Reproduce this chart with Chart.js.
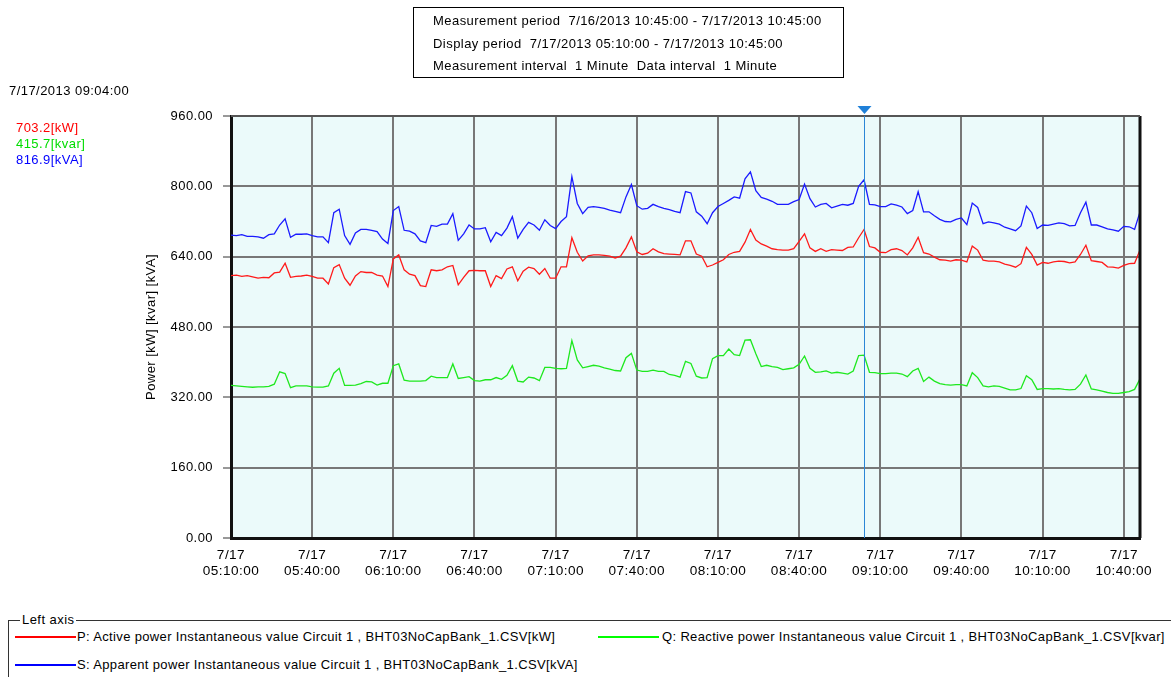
<!DOCTYPE html>
<html>
<head>
<meta charset="utf-8">
<script src="https://cdn.jsdelivr.net/npm/chart.js@4.4.0/dist/chart.umd.min.js"></script>
<style>
  body { margin: 0; background: #fff; font-family: "Liberation Sans", Arial, sans-serif; font-size: 13px; letter-spacing: 0.45px; color: #000; }
  #wrap { position: relative; width: 1171px; height: 677px; overflow: hidden; }
  #chart { position: absolute; left: 0; top: 0; }
  .abs { position: absolute; white-space: pre; }
  .leg { letter-spacing: 0.35px; }
  #info { left: 413px; top: 7px; width: 429px; height: 69px; border: 1px solid #000; }
  #info div { position: absolute; left: 19px; }
  #legendBox { left: 8px; top: 620px; width: 1170px; height: 70px; border-top: 1px solid #333; border-left: 1px solid #333; }
  .swatch { position: absolute; height: 2px; width: 61px; z-index: 2; }
</style>
</head>
<body>
<div id="wrap">
  <canvas id="chart" width="1171" height="600"></canvas>

  <div id="info" class="abs">
    <div style="top:5px">Measurement period  7/16/2013 10:45:00 - 7/17/2013 10:45:00</div>
    <div style="top:28px">Display period  7/17/2013 05:10:00 - 7/17/2013 10:45:00</div>
    <div style="top:50px">Measurement interval  1 Minute  Data interval  1 Minute</div>
  </div>

  <div class="abs" style="left:9px; top:83px">7/17/2013 09:04:00</div>
  <div class="abs" style="left:16px; top:120px; color:#ff0000">703.2[kW]</div>
  <div class="abs" style="left:16px; top:136px; color:#00dd00">415.7[kvar]</div>
  <div class="abs" style="left:16px; top:152px; color:#0000ff">816.9[kVA]</div>

  <div id="legendBox" class="abs"></div>
  <div class="abs" style="left:20px; top:612px; background:#fff; padding:0 2px">Left axis</div>
  <div class="swatch" style="left:15px; top:636px; background:#ff0000"></div>
  <div class="abs leg" style="left:77px; top:629px">P: Active power Instantaneous value Circuit 1 , BHT03NoCapBank_1.CSV[kW]</div>
  <div class="swatch" style="left:598px; top:636px; background:#00ff00"></div>
  <div class="abs leg" style="left:662px; top:629px">Q: Reactive power Instantaneous value Circuit 1 , BHT03NoCapBank_1.CSV[kvar]</div>
  <div class="swatch" style="left:15px; top:664px; background:#0000ff"></div>
  <div class="abs leg" style="left:77px; top:657px">S: Apparent power Instantaneous value Circuit 1 , BHT03NoCapBank_1.CSV[kVA]</div>
</div>

<script>
// minutes after 7/17 05:10:00, sampled every 2 minutes
const minutes = [];
for (let m = 0; m <= 336; m += 2) minutes.push(m);

const xTicks = [0, 30, 60, 90, 120, 150, 180, 210, 240, 270, 300, 330];
const cursorMinute = 234; // 09:04:00

// P [kW]
const activePower = [
  597, 598, 595, 597, 594, 591, 593, 592, 603, 605, 625, 593, 595, 596,
  598, 595, 591, 591, 578, 615, 622, 591, 575, 596, 606, 604, 604, 598,
  596, 572, 635, 644, 610, 600, 597, 574, 572, 610, 608, 610, 617, 620,
  576, 593, 608, 609, 608, 608, 572, 597, 590, 612, 617, 585, 607, 616,
  613, 600, 613, 591, 591, 617, 617, 683, 650, 630, 642, 644, 644, 643,
  641, 637, 641, 660, 685, 651, 645, 648, 658, 651, 647, 646, 645, 644, 676,
  676, 646, 641, 617, 621, 627, 633, 645, 650, 652, 673, 702, 678, 669,
  664, 658, 656, 655, 655, 658, 675, 692, 660, 652, 658, 652, 656, 655,
  654, 661, 662, 683, 702, 663, 660, 650, 649, 656, 658, 654, 644, 660,
  684, 649, 646, 639, 633, 632, 630, 633, 632, 628, 664, 655, 632, 630,
  630, 628, 623, 620, 616, 624, 661, 645, 621, 627, 625, 628, 630, 629,
  626, 628, 645, 666, 631, 629, 627, 617, 616, 614, 620, 624, 625, 655
];

// Q [kvar]
const reactivePower = [
  347, 346, 345, 344, 343, 344, 344, 345, 350, 378, 374, 342, 346, 346,
  346, 344, 343, 343, 346, 375, 386, 347, 347, 348, 351, 356, 355, 348,
  352, 352, 392, 396, 359, 357, 357, 357, 358, 368, 365, 365, 365, 396,
  363, 365, 367, 358, 357, 360, 360, 365, 361, 370, 392, 357, 355, 366,
  364, 358, 388, 388, 386, 385, 386, 449, 405, 387, 390, 393, 391, 387,
  384, 381, 380, 410, 420, 382, 379, 379, 382, 379, 379, 372, 370, 366, 402,
  397, 368, 364, 365, 408, 415, 415, 430, 417, 415, 450, 451, 419, 390,
  393, 390, 388, 383, 385, 387, 395, 414, 386, 377, 378, 380, 375, 377,
  375, 373, 380, 415, 416, 377, 376, 374, 374, 375, 375, 373, 367, 380,
  386, 356, 366, 357, 351, 349, 348, 349, 349, 346, 376, 365, 346, 344,
  346, 345, 341, 337, 337, 340, 369, 360, 338, 340, 340, 339, 340, 338,
  337, 338, 350, 371, 339, 337, 334, 331, 329, 329, 331, 333, 338, 362
];

// S [kVA]
const apparentPower = [
  689, 688, 690, 686, 686, 685, 682, 690, 692, 712, 726, 684, 691, 691,
  692, 688, 685, 685, 672, 740, 748, 688, 668, 694, 702, 702, 700, 697,
  680, 670, 745, 754, 700, 698, 692, 676, 672, 711, 709, 714, 714, 738,
  677, 692, 712, 703, 703, 706, 674, 695, 688, 705, 731, 682, 702, 718,
  712, 700, 724, 711, 704, 720, 731, 822, 761, 738, 752, 754, 752, 750,
  746, 743, 740, 776, 804, 756, 748, 750, 759, 754, 750, 747, 743, 740, 788,
  785, 742, 732, 715, 740, 754, 761, 768, 776, 773, 817, 833, 790, 775,
  771, 766, 759, 759, 759, 765, 770, 805, 772, 753, 759, 761, 751, 755,
  759, 757, 761, 800, 815, 759, 758, 754, 754, 760, 757, 753, 738, 745,
  788, 742, 742, 733, 725, 720, 719, 725, 728, 713, 762, 752, 715, 719,
  717, 714, 707, 703, 699, 710, 755, 740, 704, 712, 711, 714, 717, 715,
  710, 711, 740, 764, 712, 712, 708, 703, 701, 698, 709, 708, 702, 742
];

const tickFont = { family: "'Liberation Sans', Arial, sans-serif", size: 13 };
const xTickFont = { family: "'Liberation Sans', Arial, sans-serif", size: 13.6 };

function pad2(n) { return (n < 10 ? '0' : '') + n; }
function timeLabel(m) {
  const t = 5 * 60 + 10 + m;
  return pad2(Math.floor(t / 60)) + ':' + pad2(t % 60) + ':00';
}

function toPoints(values) {
  return values.map((v, i) => ({ x: minutes[i], y: v }));
}

const plotFrame = {
  id: 'plotFrame',
  beforeDraw(chart) {
    const a = chart.chartArea, ctx = chart.ctx;
    ctx.save();
    ctx.fillStyle = '#ebfafa';
    ctx.fillRect(a.left, a.top, a.right - a.left, a.bottom - a.top);
    ctx.restore();
  },
  afterDatasetsDraw(chart) {
    const a = chart.chartArea, ctx = chart.ctx;
    ctx.save();
    // right border
    ctx.strokeStyle = '#111';
    ctx.lineWidth = 3;
    ctx.beginPath();
    ctx.moveTo(a.right, a.top);
    ctx.lineTo(a.right, a.bottom);
    ctx.stroke();
    // top border
    ctx.strokeStyle = '#555';
    ctx.lineWidth = 2;
    ctx.beginPath();
    ctx.moveTo(a.left, a.top);
    ctx.lineTo(a.right, a.top);
    ctx.stroke();
    // cursor at 09:04
    const cx = Math.round(chart.scales.x.getPixelForValue(cursorMinute)) + 0.5;
    ctx.strokeStyle = '#2b86d6';
    ctx.lineWidth = 1;
    ctx.beginPath();
    ctx.moveTo(cx, a.top);
    ctx.lineTo(cx, a.bottom);
    ctx.stroke();
    ctx.fillStyle = '#1f80d8';
    ctx.beginPath();
    ctx.moveTo(cx - 7, a.top - 10);
    ctx.lineTo(cx + 7, a.top - 10);
    ctx.lineTo(cx, a.top - 2);
    ctx.closePath();
    ctx.fill();
    ctx.restore();
  }
};

new Chart(document.getElementById('chart'), {
  type: 'line',
  data: {
    datasets: [
      { label: 'P', data: toPoints(activePower), borderColor: '#ff1a1a' },
      { label: 'Q', data: toPoints(reactivePower), borderColor: '#1ee81e' },
      { label: 'S', data: toPoints(apparentPower), borderColor: '#1a1aff' }
    ]
  },
  options: {
    responsive: false,
    animation: false,
    layout: { padding: { left: 140, top: 116, right: 31, bottom: 0 } },
    plugins: { legend: { display: false }, tooltip: { enabled: false } },
    elements: {
      point: { radius: 0 },
      line: { borderWidth: 1.3, tension: 0 }
    },
    scales: {
      x: {
        type: 'linear',
        min: 0,
        max: 336,
        afterBuildTicks(scale) { scale.ticks = xTicks.map(v => ({ value: v })); },
        afterFit(scale) { scale.height = 62; },
        grid: { color: '#777', lineWidth: 2, drawTicks: false },
        border: { color: '#111', width: 3 },
        ticks: {
          font: xTickFont, color: '#000', padding: 9, maxRotation: 0, autoSkip: false,
          callback: v => ['7/17', timeLabel(v)]
        }
      },
      y: {
        min: 0,
        max: 960,
        afterFit(scale) { scale.width = 91; },
        grid: { color: '#777', lineWidth: 2, tickLength: 8, tickColor: '#333', tickWidth: 1 },
        border: { color: '#111', width: 3 },
        ticks: { stepSize: 160, font: tickFont, color: '#000', padding: 10, callback: v => v.toFixed(2) },
        title: { display: true, text: 'Power [kW] [kvar] [kVA]', font: tickFont, color: '#000', padding: 4 }
      }
    }
  },
  plugins: [plotFrame]
});
</script>
</body>
</html>
